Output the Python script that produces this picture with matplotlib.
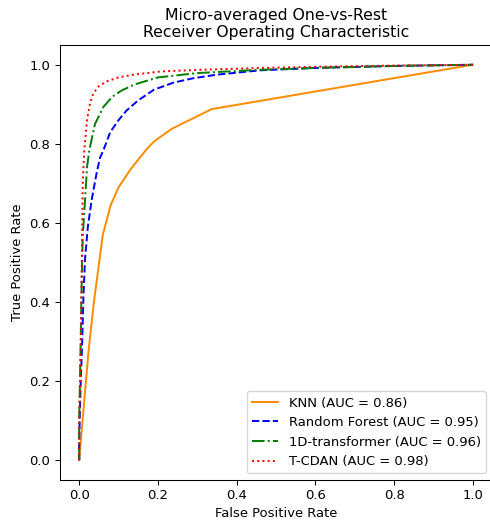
import matplotlib.pyplot as plt

# ROC points
knn_fpr = [0.0, 0.0, 0.013, 0.024, 0.038, 0.055, 0.06, 0.08, 0.10, 0.13, 0.17, 0.19, 0.235, 0.337, 1.0]
knn_tpr = [0.0, 0.0, 0.152, 0.278, 0.405, 0.532, 0.57, 0.645, 0.69, 0.735, 0.785, 0.806, 0.838, 0.888, 1.0]

rf_fpr = [0.0, 0.0, 0.0025, 0.004, 0.007, 0.011, 0.015, 0.022, 0.032, 0.045, 0.053, 0.062, 0.079,
          0.10, 0.121, 0.15, 0.19, 0.24, 0.29, 0.35, 0.46, 0.6, 0.8, 1.0]
rf_tpr = [0.0, 0.05, 0.15, 0.2, 0.28, 0.42, 0.51, 0.59, 0.66, 0.73, 0.765, 0.785, 0.83,
          0.86, 0.885, 0.91, 0.937, 0.955, 0.966, 0.975, 0.986, 0.992, 0.997, 1.0]

tr_fpr = [0.0, 0.0, 0.002, 0.004, 0.006, 0.009, 0.015, 0.02, 0.026, 0.04, 0.062, 0.085, 0.108,
          0.14, 0.2, 0.3, 0.45, 0.6, 0.8, 1.0]
tr_tpr = [0.0, 0.1, 0.2, 0.31, 0.43, 0.565, 0.66, 0.742, 0.785, 0.85, 0.894, 0.92, 0.935,
          0.95, 0.968, 0.979, 0.987, 0.992, 0.997, 1.0]

tc_fpr = [0.0, 0.0, 0.002, 0.004, 0.007, 0.009, 0.013, 0.02, 0.028, 0.036, 0.05, 0.07, 0.1,
          0.138, 0.206, 0.3, 0.46, 0.6, 0.8, 1.0]
tc_tpr = [0.0, 0.1, 0.18, 0.28, 0.53, 0.70, 0.785, 0.861, 0.905, 0.928, 0.946, 0.958, 0.968,
          0.975, 0.983, 0.987, 0.992, 0.995, 0.998, 1.0]

labels = ['KNN (AUC = 0.86)', 'Random Forest (AUC = 0.95)',
          '1D-transformer (AUC = 0.96)', 'T-CDAN (AUC = 0.98)']


def main():
    dpi = 94.5
    fig = plt.figure(figsize=(490 / dpi, 523 / dpi), dpi=dpi)
    ax = fig.add_axes([59.5 / 490, 43 / 523, 433 / 490, 435 / 523])

    ax.plot(knn_fpr, knn_tpr, color='darkorange', linestyle='-', label=labels[0])
    ax.plot(rf_fpr, rf_tpr, color='blue', linestyle='--', label=labels[1])
    ax.plot(tr_fpr, tr_tpr, color='green', linestyle='-.', label=labels[2])
    ax.plot(tc_fpr, tc_tpr, color='red', linestyle=':', label=labels[3])

    ax.set_xlabel('False Positive Rate')
    ax.set_ylabel('True Positive Rate')
    ax.set_title('Micro-averaged One-vs-Rest\nReceiver Operating Characteristic')
    ax.legend(loc='lower right')

    fig.savefig('out.png', dpi=dpi)


if __name__ == "__main__":
    main()
